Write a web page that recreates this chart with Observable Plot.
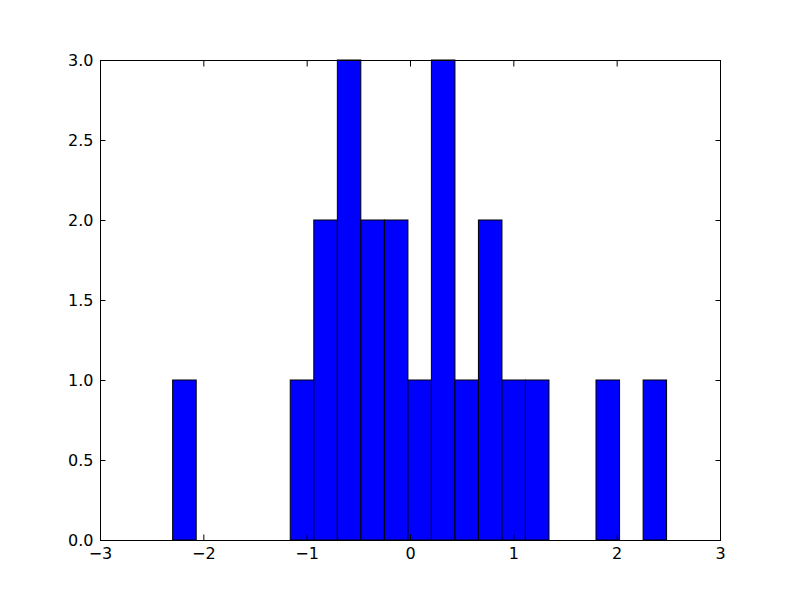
<!DOCTYPE html>
<html>
<head>
<meta charset="utf-8">
<script src="https://cdn.jsdelivr.net/npm/d3@7"></script>
<script src="https://cdn.jsdelivr.net/npm/@observablehq/plot@0.6"></script>
<style>
  html, body { margin: 0; padding: 0; background: #fff; }
</style>
</head>
<body>
<div id="chart"></div>
<script>
// Histogram bin edges (21 bins)
const binEdges = [-2.297, -2.069, -1.841, -1.614, -1.386, -1.159, -0.931, -0.703, -0.476, -0.248, -0.020,
                  0.207, 0.435, 0.662, 0.890, 1.117, 1.345, 1.573, 1.800, 2.028, 2.256, 2.483];
const counts = [1, 0, 0, 0, 0, 1, 2, 3, 2, 2, 1, 3, 1, 2, 1, 1, 0, 0, 1, 0, 1];
const xTicks = [-3, -2, -1, 0, 1, 2, 3];
const yTicks = [0, 0.5, 1, 1.5, 2, 2.5, 3];

const bins = counts.map((c, i) => ({x1: binEdges[i], x2: binEdges[i + 1], count: c})).filter(d => d.count > 0);

const tick = 5.5;
const chart = Plot.plot({
  width: 800,
  height: 600,
  marginLeft: 100,
  marginRight: 80,
  marginTop: 60,
  marginBottom: 60,
  style: {fontFamily: "DejaVu Sans", fontSize: "16px", color: "black", background: "white"},
  x: {domain: [-3, 3]},
  y: {domain: [0, 3]},
  marks: [
    Plot.rectY(bins, {x1: "x1", x2: "x2", y1: 0, y2: "count", fill: "#0000ff", stroke: "black", strokeWidth: 1}),
    Plot.axisX({anchor: "bottom", ticks: xTicks, tickSize: -tick, tickPadding: tick + 7, tickFormat: d3.format("d"), label: null, stroke: "black", fill: "black", fontSize: 16}),
    Plot.axisX({anchor: "top", ticks: xTicks, tickSize: -tick, tickFormat: () => "", label: null, stroke: "black"}),
    Plot.axisY({anchor: "left", ticks: yTicks, tickSize: -tick, tickPadding: tick + 7, tickFormat: d3.format(".1f"), label: null, stroke: "black", fill: "black", fontSize: 16}),
    Plot.axisY({anchor: "right", ticks: yTicks, tickSize: -tick, tickFormat: () => "", label: null, stroke: "black"}),
    Plot.frame({stroke: "black", strokeWidth: 1})
  ]
});
document.getElementById("chart").appendChild(chart);
</script>
</body>
</html>
